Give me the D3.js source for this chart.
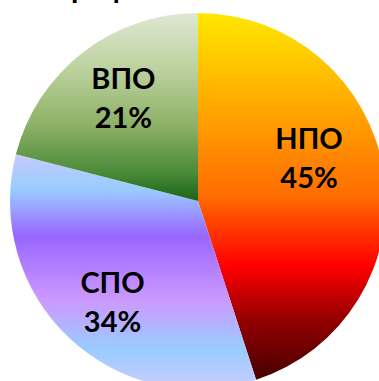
<!DOCTYPE html>
<html>
<head>
<meta charset="utf-8">
<script src="https://cdn.jsdelivr.net/npm/d3@7"></script>
<style>
  html, body { margin: 0; padding: 0; background: #fff; overflow: hidden; }
  svg { display: block; }
</style>
</head>
<body>
<script>
// Education level shares
const categories = ["НПО", "СПО", "ВПО"];
const shares = [45, 34, 21];
const titleText = "профессиональное";

// Vertical gradient fills, one per slice (offset, colour)
const gradientStops = [
  [[0, "#FFE800"], [0.28, "#FFA200"], [0.5, "#FF6C00"], [0.6, "#FF3200"], [0.69, "#FF0000"], [0.84, "#920000"], [1, "#460000"]],
  [[0, "#C6CAFF"], [0.15, "#99CCFF"], [0.35, "#9966FF"], [0.62, "#CC99FF"], [0.83, "#99CCFF"], [1, "#CCCCFF"]],
  [[0, "#DEE8D3"], [0.3, "#BCD19E"], [0.6, "#8DB066"], [0.85, "#4A8A38"], [1, "#1A6418"]]
];

const width = 379, height = 381;
const cx = 198, cy = 201, radius = 188;

const svg = d3.select("body").append("svg")
  .attr("width", width).attr("height", height);

const defs = svg.append("defs");
gradientStops.forEach((stops, i) => {
  const g = defs.append("linearGradient")
    .attr("id", "slice-grad-" + i)
    .attr("x1", 0).attr("y1", 0).attr("x2", 0).attr("y2", 1);
  stops.forEach(([o, c]) => g.append("stop").attr("offset", o).attr("stop-color", c));
});

// Title line sitting above the plot area
const title = svg.append("text")
  .attr("y", -2)
  .attr("font-family", "Lato, 'Open Sans', sans-serif")
  .attr("font-weight", 700)
  .attr("font-size", 30)
  .attr("fill", "#000")
  .text(titleText);
// align the descender of "р" with its column
const rStart = title.node().getStartPositionOfChar(1).x;
title.attr("x", 71 - rStart);

const pie = d3.pie().sort(null).value(d => d)
  .startAngle(0).endAngle(2 * Math.PI);
const arcs = pie(shares);

const arc = d3.arc().innerRadius(0).outerRadius(radius);

const g = svg.append("g").attr("transform", `translate(${cx},${cy})`);

g.selectAll("path.slice")
  .data(arcs)
  .join("path")
  .attr("class", "slice")
  .attr("d", arc)
  .attr("fill", (d, i) => `url(#slice-grad-${i})`);

// Label placement: angle shift (radians) and distance from the centre per slice
const angleNudge = [-0.21, -0.05, 0.035];
const labelRadius = [119, 132, 127.5];

const labels = g.selectAll("g.label")
  .data(arcs)
  .join("g")
  .attr("class", "label")
  .attr("transform", (d, i) => {
    const a = (d.startAngle + d.endAngle) / 2 + angleNudge[i];
    const r = labelRadius[i];
    return `translate(${r * Math.sin(a)},${-r * Math.cos(a)})`;
  });

labels.append("text")
  .attr("text-anchor", "middle")
  .attr("font-family", "Lato, 'Open Sans', sans-serif")
  .attr("font-weight", 700)
  .attr("font-size", 29)
  .attr("fill", "#000")
  .selectAll("tspan")
  .data((d, i) => [categories[i], d.data + "%"])
  .join("tspan")
  .attr("x", 0)
  .attr("y", (t, j) => j === 0 ? -9 : 30)
  .text(t => t);
</script>
</body>
</html>
